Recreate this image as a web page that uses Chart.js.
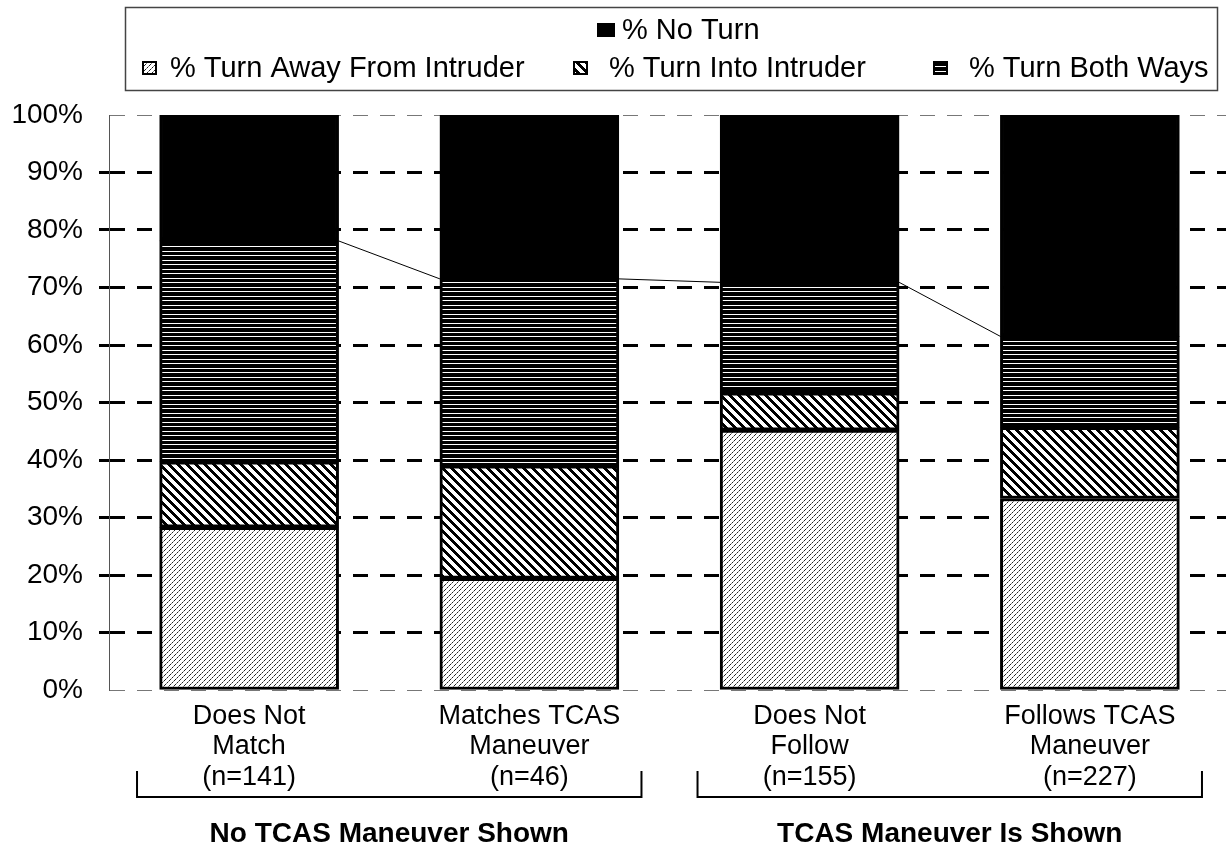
<!DOCTYPE html>
<html><head><meta charset="utf-8">
<script src="https://cdn.jsdelivr.net/npm/chart.js@4.4.0/dist/chart.umd.min.js"></script>
<style>html,body{margin:0;padding:0;background:#fff;overflow:hidden}</style>
</head><body>
<canvas id="c" width="1232" height="850" style="display:block"></canvas>
<script>
// ---- data ----
const categories = [
  ["Does Not", "Match", "(n=141)"],
  ["Matches TCAS", "Maneuver", "(n=46)"],
  ["Does Not", "Follow", "(n=155)"],
  ["Follows TCAS", "Maneuver", "(n=227)"]
];
const seriesNames = ["% Turn Away From Intruder", "% Turn Into Intruder", "% Turn Both Ways", "% No Turn"];
const turnAway = [28.3, 19.4, 45.2, 33.3];
const turnInto = [11.4, 19.6, 6.5, 12.4];
const turnBoth = [38.4, 32.5, 19.2, 15.8];
const noTurn   = [21.9, 28.5, 29.1, 38.5];
const yTickValues = [0, 10, 20, 30, 40, 50, 60, 70, 80, 90, 100];
const groupLabels = ["No TCAS Maneuver Shown", "TCAS Maneuver Is Shown"];
const groupMembers = [[0, 1], [2, 3]];

// ---- patterns ----
function tile(w, h, draw) {
  const c = document.createElement('canvas');
  c.width = w; c.height = h;
  const g = c.getContext('2d');
  g.fillStyle = '#fff'; g.fillRect(0, 0, w, h);
  draw(g, w, h);
  return g.createPattern(c, 'repeat');
}
const patAway = tile(5, 5, (g, w, h) => {
  for (let i = 0; i < w; i++) {
    g.fillStyle = (i % 2 === 0) ? '#222' : '#888';
    g.fillRect(i, h - 1 - i, 1, 1);
  }
});
const patInto = tile(9, 9, (g, w, h) => {
  g.fillStyle = '#000';
  for (let y = 0; y < h; y++) for (let k = 0; k < 4; k++) g.fillRect((y + k) % w, y, 1, 1);
});
const patBoth = tile(4, 9, (g, w, h) => {
  g.fillStyle = '#000';
  [0, 1, 2, 4, 5, 6, 7].forEach(r => g.fillRect(0, r, w, 1));
});
const fills = [patAway, patInto, patBoth, '#000'];
const seriesData = [turnAway, turnInto, turnBoth, noTurn];

const FONT = '"Liberation Sans", Arial, Helvetica, sans-serif';

// ---- plugins ----
const seriesLines = {
  id: 'seriesLines',
  afterDatasetsDraw(chart) {
    const pts = chart.getDatasetMeta(2).data;
    const ctx = chart.ctx;
    ctx.save();
    ctx.strokeStyle = '#000'; ctx.lineWidth = 1;
    for (let i = 0; i < pts.length - 1; i++) {
      const a = pts[i], b = pts[i + 1];
      ctx.beginPath();
      ctx.moveTo(a.x + a.width / 2, a.y);
      ctx.lineTo(b.x - b.width / 2, b.y);
      ctx.stroke();
    }
    ctx.restore();
  }
};

const customLegend = {
  id: 'customLegend',
  afterDraw(chart) {
    const ctx = chart.ctx;
    ctx.save();
    ctx.strokeStyle = '#444'; ctx.lineWidth = 1.5;
    ctx.strokeRect(125.5, 7.5, 1092, 83);
    ctx.font = '29px ' + FONT;
    ctx.textBaseline = 'middle';
    ctx.fillStyle = '#000';
    const layout = [
      { ds: 3, x: 598, y: 30, w: 16 },
      { ds: 0, x: 143, y: 68, w: 13 },
      { ds: 1, x: 574, y: 68, w: 13 },
      { ds: 2, x: 934, y: 68, w: 13 }
    ];
    layout.forEach(it => {
      const h = 12;
      ctx.fillStyle = fills[it.ds];
      ctx.fillRect(it.x, it.y - h / 2, it.w, h);
      ctx.lineWidth = 2; ctx.strokeStyle = '#000';
      ctx.strokeRect(it.x, it.y - h / 2, it.w, h);
      ctx.fillStyle = '#000';
      const gap = it.ds === 3 ? 8 : (it.ds === 0 ? 14 : 22);
      ctx.fillText(chart.data.datasets[it.ds].label, it.x + it.w + gap, it.y + 1);
    });
    ctx.restore();
  }
};

const groups = {
  id: 'groups',
  afterDraw(chart) {
    const xs = chart.scales.x;
    const ctx = chart.ctx;
    const half = xs.width / categories.length;
    ctx.save();
    ctx.strokeStyle = '#000'; ctx.lineWidth = 2;
    ctx.fillStyle = '#000';
    ctx.font = 'bold 28px ' + FONT;
    ctx.textAlign = 'center'; ctx.textBaseline = 'middle';
    groupMembers.forEach((m, gi) => {
      const x1 = xs.getPixelForValue(m[0]) - half * 0.4;
      const x2 = xs.getPixelForValue(m[m.length - 1]) + half * 0.4;
      const yb = 797, yt = 771;
      ctx.beginPath();
      ctx.moveTo(x1, yt); ctx.lineTo(x1, yb); ctx.lineTo(x2, yb); ctx.lineTo(x2, yt);
      ctx.stroke();
      ctx.fillText(groupLabels[gi], (x1 + x2) / 2, 834);
    });
    ctx.restore();
  }
};

new Chart(document.getElementById('c'), {
  type: 'bar',
  data: {
    labels: categories,
    datasets: seriesData.map((d, i) => ({
      label: seriesNames[i],
      data: d,
      backgroundColor: fills[i],
      borderColor: '#000',
      borderWidth: 3,
      borderSkipped: false,
      barThickness: 179
    }))
  },
  options: {
    responsive: false,
    animation: false,
    devicePixelRatio: 1,
    layout: { padding: { top: 115, right: 2, left: 0, bottom: 0 } },
    plugins: { legend: { display: false }, tooltip: { enabled: false } },
    scales: {
      x: {
        stacked: true,
        grid: { display: false, drawTicks: false },
        border: { display: false },
        ticks: {
          color: '#000', padding: 11, maxRotation: 0, autoSkip: false,
          font: { family: FONT, size: 27, lineHeight: 1.13 }
        },
        afterFit(s) { s.height = 160; }
      },
      y: {
        stacked: true,
        min: 0, max: 100,
        afterBuildTicks(s) { s.ticks = yTickValues.map(v => ({ value: v })); },
        ticks: {
          color: '#000', padding: 16,
          font: { family: FONT, size: 28 },
          callback: v => v + '%'
        },
        grid: {
          color: c => (c.tick && (c.tick.value === 0 || c.tick.value === 100)) ? '#777' : '#000',
          lineWidth: c => (c.tick && (c.tick.value === 0 || c.tick.value === 100)) ? 1 : 3,
          borderDash: [15, 12],
          tickLength: 10,
          tickWidth: 3,
          tickColor: c => (c.tick && (c.tick.value === 0 || c.tick.value === 100)) ? 'rgba(0,0,0,0)' : '#000',
          tickBorderDash: []
        },
        border: { display: true, color: '#555', width: 1, dash: [15, 12] },
        afterFit(s) { s.width = 109; }
      }
    }
  },
  plugins: [seriesLines, customLegend, groups]
});
</script>
</body></html>
